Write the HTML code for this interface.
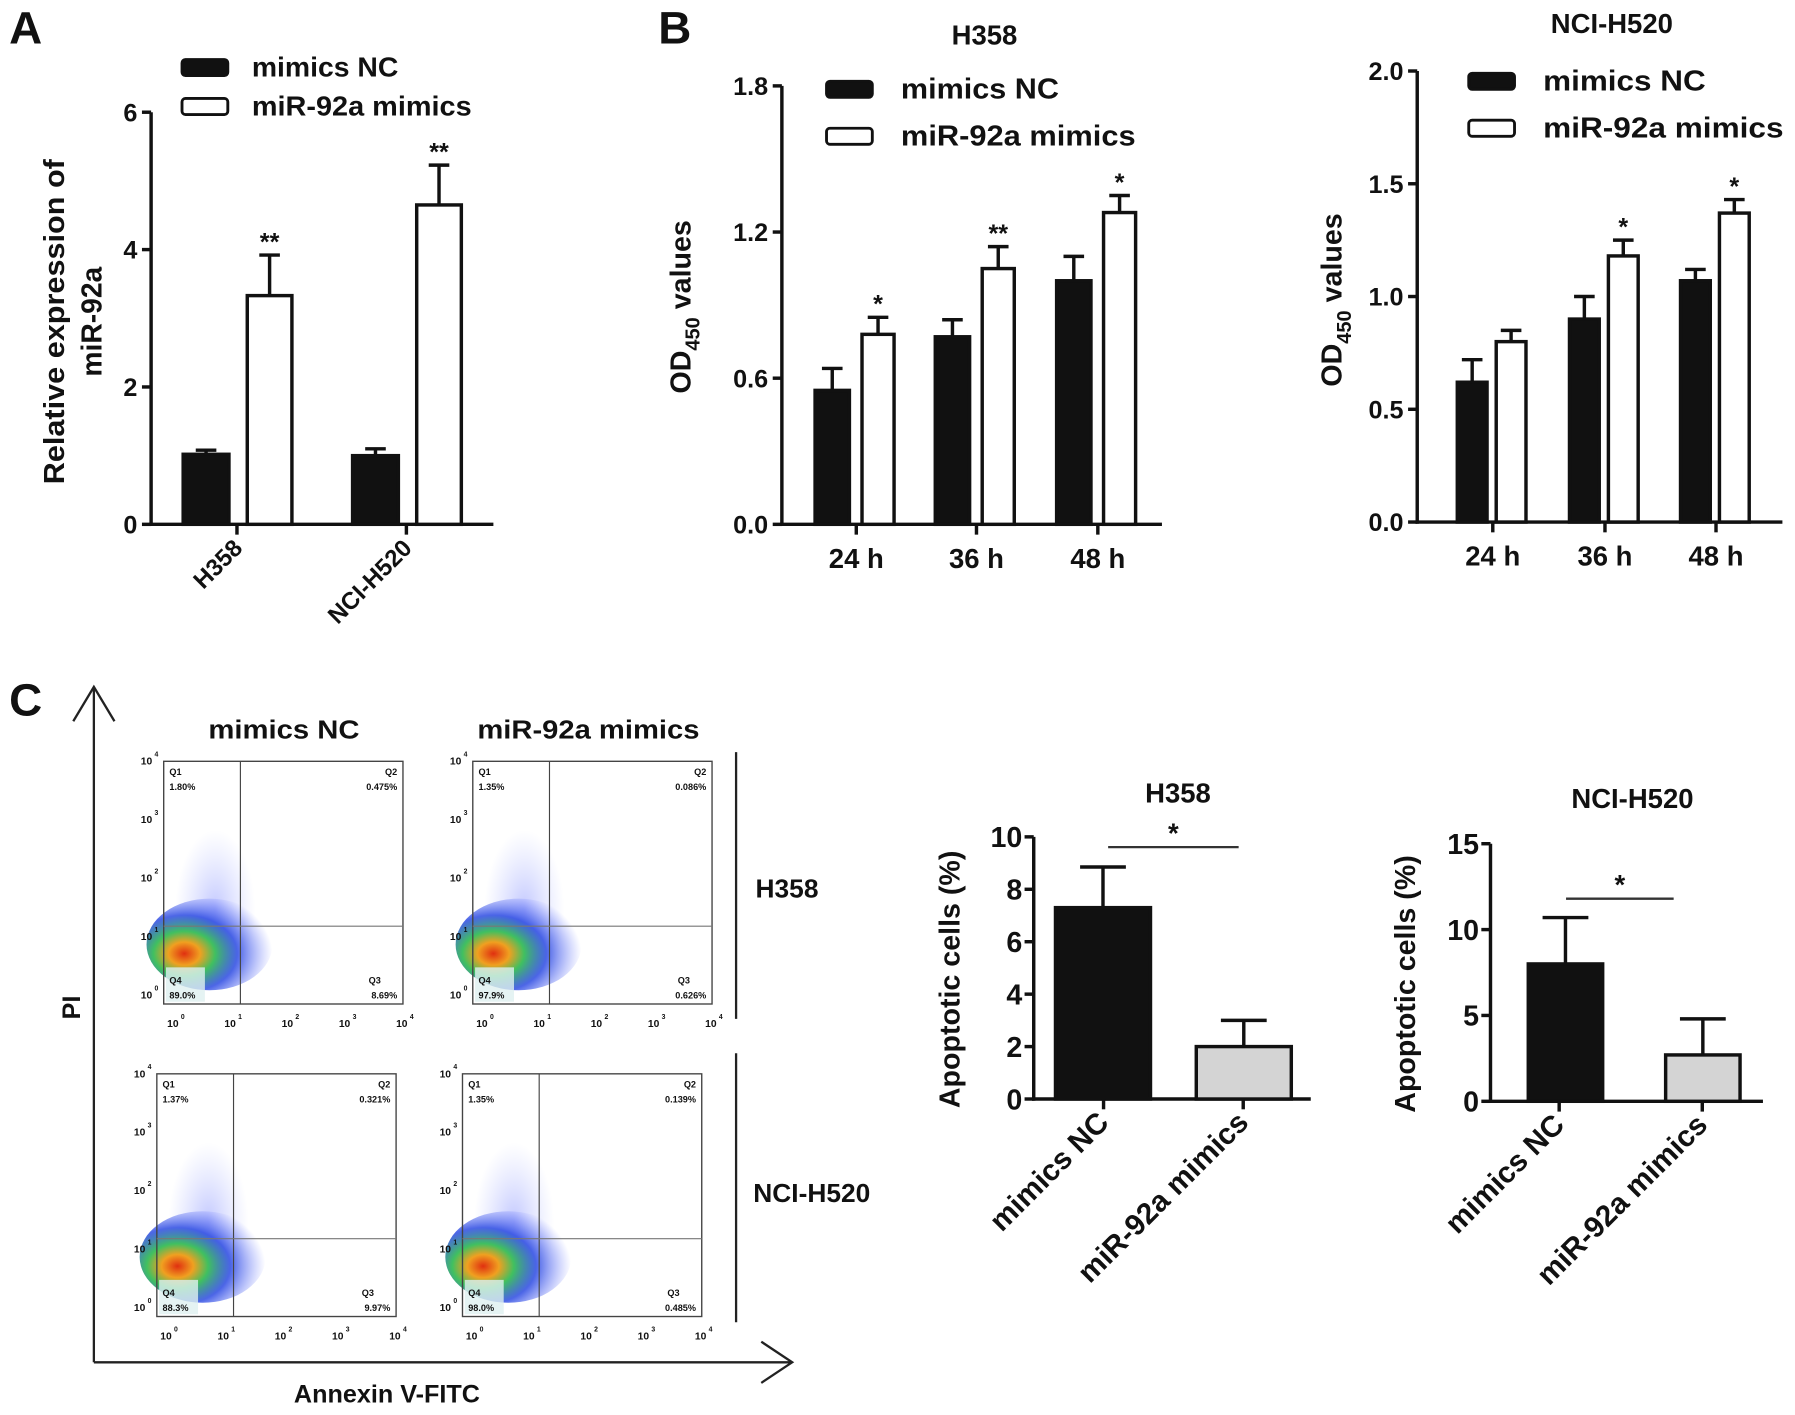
<!DOCTYPE html>
<html><head><meta charset="utf-8"><style>
html,body{margin:0;padding:0;background:#fff}
svg{display:block}
text{font-family:"Liberation Sans",Arial,sans-serif;font-weight:bold;fill:#111}
</style></head><body>
<svg id="fig" width="1795" height="1415" viewBox="0 0 1568 1236" xmlns="http://www.w3.org/2000/svg">
<defs>
<radialGradient id="blob" cx="0.3" cy="0.6" r="0.7">
<stop offset="0" stop-color="#e03010"/><stop offset="0.18" stop-color="#f0a020"/><stop offset="0.35" stop-color="#40c060"/><stop offset="0.6" stop-color="#2040e0" stop-opacity="0.8"/><stop offset="1" stop-color="#6070ff" stop-opacity="0"/>
</radialGradient>
<radialGradient id="haze" cx="0.5" cy="0.5" r="0.5">
<stop offset="0" stop-color="#5060ff" stop-opacity="0.35"/><stop offset="1" stop-color="#8090ff" stop-opacity="0"/>
</radialGradient>
</defs>
<g id="root"></g>
</svg>
<script>
// ---- Panel A data ----
const aCategories = ["H358", "NCI-H520"];
const aNC = [1.02, 1.0];
const aNCErr = [0.06, 0.1];
const aMim = [3.33, 4.65];
const aMimErr = [0.59, 0.58];
const aSig = ["**", "**"];
const aTicks = [0, 2, 4, 6];
// ---- Panel B H358 ----
const bTimes = ["24 h", "36 h", "48 h"];
const bH358NC = [0.55, 0.77, 1.00];
const bH358NCErr = [0.09, 0.07, 0.10];
const bH358Mim = [0.78, 1.05, 1.28];
const bH358MimErr = [0.07, 0.09, 0.07];
const bH358Sig = ["*", "**", "*"];
const bH358Ticks = [0.0, 0.6, 1.2, 1.8];
// ---- Panel B NCI-H520 ----
const bNciNC = [0.62, 0.90, 1.07];
const bNciNCErr = [0.10, 0.10, 0.05];
const bNciMim = [0.80, 1.18, 1.37];
const bNciMimErr = [0.05, 0.07, 0.06];
const bNciSig = ["", "*", "*"];
const bNciTicks = [0.0, 0.5, 1.0, 1.5, 2.0];
// ---- Panel C apoptosis ----
const cGroups = ["mimics NC", "miR-92a mimics"];
const cH358 = [7.3, 2.0];
const cH358Err = [1.55, 1.0];
const cH358Ticks = [0, 2, 4, 6, 8, 10];
const cNci = [8.0, 2.7];
const cNciErr = [2.7, 2.1];
const cNciTicks = [0, 5, 10, 15];

const NS = "http://www.w3.org/2000/svg";
const root = document.getElementById("root");
function el(tag, attrs, parent, txt) {
  const e = document.createElementNS(NS, tag);
  for (const k in attrs) e.setAttribute(k, attrs[k]);
  if (txt !== undefined) e.textContent = txt;
  (parent || root).appendChild(e);
  return e;
}
function txt(x, y, s, size, anchor, parent, extra) {
  return el("text", Object.assign({x: x, y: y, "font-size": size, "text-anchor": anchor || "middle"}, extra || {}), parent, s);
}
function linearScale(d0, d1, r0, r1) { return v => r0 + (v - d0) / (d1 - d0) * (r1 - r0); }

function barChart(o) {
  const g = el("g", {});
  
  
  const y = linearScale(o.ymin, o.ymax, o.y0, o.y1);
  const ya = el("line", {x1: o.x0, y1: o.y0 + 1.5, x2: o.x0, y2: o.y1, stroke: "#111", "stroke-width": 3}, g);
  
  
  const xa = el("line", {x1: o.x0 - 1.5, y1: o.y0, x2: o.xend, y2: o.y0, stroke: "#111", "stroke-width": 3}, g);
  
  
  o.ticks.forEach(t => {
    const yy = y(t);
    el("line", {x1: o.x0 - 8, y1: yy, x2: o.x0, y2: yy, stroke: "#111", "stroke-width": 3}, g);
    const lab = txt(o.x0 - 12, yy + 8, o.tickFmt ? o.tickFmt(t) : String(t), o.tickSize || 22, "end", g);
    
    
  });
  o.cats.forEach((c, i) => {
    const cx = o.catX[i];
    el("line", {x1: cx, y1: o.y0, x2: cx, y2: o.y0 + 9, stroke: "#111", "stroke-width": 3}, g);
    let lab;
    if (o.rotate) {
      lab = txt(0, 0, c, o.catSize || 22, "end", g, {transform: "translate(" + (cx + 6) + "," + (o.y0 + 22) + ") rotate(-45)"});
    } else {
      lab = txt(cx, o.y0 + 38, c, o.catSize || 22, "middle", g);
    }
    
    
    o.series.forEach((s) => {
      const v = s.vals[i], e = s.err[i];
      const bx = cx + s.off, bw = s.w;
      const top = y(v), etop = y(v + e);
      const em = el("line", {x1: bx + bw / 2, y1: top, x2: bx + bw / 2, y2: etop, stroke: "#111", "stroke-width": 3}, g);
      
      
      el("line", {x1: bx + bw / 2 - 9, y1: etop, x2: bx + bw / 2 + 9, y2: etop, stroke: "#111", "stroke-width": 3}, g);
      const r = el("rect", {x: bx, y: top, width: bw, height: o.y0 - top, fill: s.fill, stroke: "#111", "stroke-width": 3}, g);
      
      
      if (s.sig && s.sig[i]) {
        const st = txt(bx + bw / 2, etop - 4, s.sig[i], 22, "middle", g, {"font-weight": "normal", fill: "#333"});
        
        
      }
    });
  });
  return {g: g, y: y};
}
function legend(x, y1, y2, textX, size, w1, w2) {
  const g = el("g", {});
  
  
  const a = el("rect", {x: x, y: y1, width: 40, height: 14, rx: 3, fill: "#111", stroke: "#111", "stroke-width": 2.5}, g);
  
  
  const t1 = txt(textX, y1 + 15, "mimics NC", size, "start", g, {textLength: w1, lengthAdjust: "spacingAndGlyphs"});
  
  
  const b = el("rect", {x: x, y: y2, width: 40, height: 14, rx: 3, fill: "#fff", stroke: "#111", "stroke-width": 2.5}, g);
  
  
  const t2 = txt(textX, y2 + 15, "miR-92a mimics", size, "start", g, {textLength: w2, lengthAdjust: "spacingAndGlyphs"});
  
  
}
function yTitle(x, y, lines, size, sub, lens) {
  const t = el("text", {x: 0, y: 0, "font-size": size, "text-anchor": "middle", transform: "translate(" + x + "," + y + ") rotate(-90)"});
  
  
  if (sub) {
    el("tspan", {}, t, "OD");
    el("tspan", {dy: 8, "font-size": size * 0.7}, t, "450");
    el("tspan", {dy: -8}, t, " values");
  } else {
    lines.forEach((l, i) => {
      const a = {x: 0, dy: i === 0 ? 0 : size * 1.3};
      if (lens) { a.textLength = lens[i]; a.lengthAdjust = "spacingAndGlyphs"; }
      el("tspan", a, t, l);
    });
  }
}

[["A", 8, 38], ["B", 575, 38], ["C", 8, 625]].forEach(p => {
  const t = txt(p[1], p[2], p[0], 40, "start");
  
  
});

// ===== Panel A =====
barChart({name: "chart-a-relative-expression", x0: 132, xend: 431, y0: 458, y1: 98, ymin: 0, ymax: 6,
  ticks: aTicks, cats: aCategories, catX: [207, 355], rotate: true, catSize: 21,
  series: [{key: "nc", vals: aNC, err: aNCErr, off: -47, w: 40, fill: "#111"},
           {key: "mimics", vals: aMim, err: aMimErr, off: 9, w: 39, fill: "#fff", sig: aSig}]});
legend(159, 52, 86, 220, 24, 128, 192);
yTitle(56, 281, ["Relative expression of", "miR-92a"], 25, false, [284, 96]);

// ===== Panel B H358 =====
barChart({name: "chart-b-h358-od450", x0: 683, xend: 1015, y0: 458, y1: 75, ymin: 0, ymax: 1.8,
  ticks: bH358Ticks, tickFmt: v => v.toFixed(1), cats: bTimes, catX: [748, 853, 959], catSize: 24,
  series: [{key: "nc", vals: bH358NC, err: bH358NCErr, off: -36, w: 30, fill: "#111"},
           {key: "mimics", vals: bH358Mim, err: bH358MimErr, off: 5, w: 28, fill: "#fff", sig: bH358Sig}]});
legend(722, 71, 112, 787, 25, 138, 205);
let t = txt(860, 39, "H358", 24);  
yTitle(603, 268, null, 25, true);

// ===== Panel B NCI-H520 =====
barChart({name: "chart-b-nci-h520-od450", x0: 1238, xend: 1557, y0: 456, y1: 62, ymin: 0, ymax: 2.0,
  ticks: bNciTicks, tickFmt: v => v.toFixed(1), cats: bTimes, catX: [1304, 1402, 1499], catSize: 24,
  series: [{key: "nc", vals: bNciNC, err: bNciNCErr, off: -31, w: 26, fill: "#111"},
           {key: "mimics", vals: bNciMim, err: bNciMimErr, off: 3, w: 26, fill: "#fff", sig: bNciSig}]});
legend(1283, 64, 105, 1348, 25, 142, 210);
t = txt(1408, 29, "NCI-H520", 24);  
yTitle(1172, 262, null, 25, true);

// ===== Panel C flow cytometry =====
const fg = el("g", {});


el("line", {x1: 82, y1: 600, x2: 82, y2: 1190, stroke: "#222", "stroke-width": 2}, fg);
el("polyline", {points: "64,630 82,600 100,630", fill: "none", stroke: "#222", "stroke-width": 2}, fg);
el("line", {x1: 82, y1: 1190, x2: 692, y2: 1190, stroke: "#222", "stroke-width": 2}, fg);
el("polyline", {points: "665,1172 692,1190 665,1208", fill: "none", stroke: "#222", "stroke-width": 2}, fg);
t = txt(0, 0, "PI", 22, "middle", fg, {"font-weight": "normal", transform: "translate(70,880) rotate(-90)"});
 
t = txt(338, 1225, "Annexin V-FITC", 22, "middle", fg, {"font-weight": "normal"});
 
t = txt(248, 645, "mimics NC", 23, "middle", fg, {textLength: 132, lengthAdjust: "spacingAndGlyphs"});  
t = txt(514, 645, "miR-92a mimics", 23, "middle", fg, {textLength: 194, lengthAdjust: "spacingAndGlyphs"});  
el("line", {x1: 643, y1: 657, x2: 643, y2: 890, stroke: "#222", "stroke-width": 2}, fg);
el("line", {x1: 643, y1: 920, x2: 643, y2: 1155, stroke: "#222", "stroke-width": 2}, fg);
t = txt(660, 784, "H358", 23, "start", fg);  
t = txt(658, 1050, "NCI-H520", 23, "start", fg);  

const flowBoxes = [
  {x: 143, y: 665, q: ["1.80%", "0.475%", "89.0%", "8.69%"], vx: 67},
  {x: 413, y: 665, q: ["1.35%", "0.086%", "97.9%", "0.626%"], vx: 67},
  {x: 137, y: 938, q: ["1.37%", "0.321%", "88.3%", "9.97%"], vx: 67},
  {x: 404, y: 938, q: ["1.35%", "0.139%", "98.0%", "0.485%"], vx: 67}
];
flowBoxes.forEach((b, i) => {
  const g = el("g", {}, fg);
  
  
  const W = 209, H = 212;
  el("ellipse", {cx: b.x + 45, cy: b.y + 130, rx: 35, ry: 70, fill: "url(#haze)"}, g);
  el("ellipse", {cx: b.x + 40, cy: b.y + 160, rx: 55, ry: 40, fill: "url(#blob)"}, g);
  el("rect", {x: b.x, y: b.y, width: W, height: H, fill: "none", stroke: "#444", "stroke-width": 1.2}, g);
  el("line", {x1: b.x + b.vx, y1: b.y, x2: b.x + b.vx, y2: b.y + H, stroke: "#444", "stroke-width": 1}, g);
  el("line", {x1: b.x, y1: b.y + 144, x2: b.x + W, y2: b.y + 144, stroke: "#777", "stroke-width": 1}, g);
  el("rect", {x: b.x + 2, y: b.y + 180, width: 34, height: 30, fill: "#dff0f0", opacity: 0.8}, g);
  const small = {"font-weight": "normal", fill: "#555"};
  txt(b.x + 5, b.y + 12, "Q1", 8, "start", g, small);
  txt(b.x + 5, b.y + 25, b.q[0], 8, "start", g, small);
  txt(b.x + W - 5, b.y + 12, "Q2", 8, "end", g, small);
  txt(b.x + W - 5, b.y + 25, b.q[1], 8, "end", g, small);
  txt(b.x + 5, b.y + 194, "Q4", 8, "start", g, small);
  txt(b.x + 5, b.y + 207, b.q[2], 8, "start", g, small);
  txt(b.x + W - 30, b.y + 194, "Q3", 8, "start", g, small);
  txt(b.x + W - 5, b.y + 207, b.q[3], 8, "end", g, small);
  for (let k = 0; k <= 4; k++) {
    txt(b.x + 8 + k * 50, b.y + H + 20, "10", 9, "middle", g, small);
    txt(b.x + 15 + k * 50, b.y + H + 13, String(k), 6, "start", g, small);
    txt(b.x - 15, b.y + H - 5 - k * 51, "10", 9, "middle", g, small);
    txt(b.x - 8, b.y + H - 12 - k * 51, String(k), 6, "start", g, small);
  }
});

// ===== Panel C apoptosis bars =====
function apop(name, x0, xend, y0, y1, ymax, ticks, vals, errs, catX, barX, barW, sig, title, titleY, ytx) {
  const g = el("g", {});
  
  
  const y = linearScale(0, ymax, y0, y1);
  el("line", {x1: x0, y1: y0 + 1.5, x2: x0, y2: y1, stroke: "#111", "stroke-width": 3}, g);
  el("line", {x1: x0 - 1.5, y1: y0, x2: xend, y2: y0, stroke: "#111", "stroke-width": 3}, g);
  ticks.forEach(tv => {
    el("line", {x1: x0 - 8, y1: y(tv), x2: x0, y2: y(tv), stroke: "#111", "stroke-width": 3}, g);
    const l = txt(x0 - 10, y(tv) + 9, String(tv), 25, "end", g);
    
    
  });
  const fills = ["#111", "#d4d4d4"];
  cGroups.forEach((c, i) => {
    const bx = barX[i], top = y(vals[i]), etop = y(vals[i] + errs[i]);
    el("line", {x1: bx + barW / 2, y1: top, x2: bx + barW / 2, y2: etop, stroke: "#111", "stroke-width": 3}, g);
    el("line", {x1: bx + barW / 2 - 20, y1: etop, x2: bx + barW / 2 + 20, y2: etop, stroke: "#111", "stroke-width": 3}, g);
    const r = el("rect", {x: bx, y: top, width: barW, height: y0 - top, fill: fills[i], stroke: "#111", "stroke-width": 3}, g);
    
    
    el("line", {x1: catX[i], y1: y0, x2: catX[i], y2: y0 + 9, stroke: "#111", "stroke-width": 3}, g);
    const l = txt(0, 0, c, 26, "end", g, {transform: "translate(" + (catX[i] + 6) + "," + (y0 + 22) + ") rotate(-45)"});
    
    
  });
  const sl = el("line", {x1: sig[0], y1: sig[2], x2: sig[1], y2: sig[2], stroke: "#333", "stroke-width": 2}, g);
  
  
  const st = txt((sig[0] + sig[1]) / 2, sig[2] - 4, "*", 24, "middle", g, {"font-weight": "normal", fill: "#333"});
  
  
  const tt = txt((x0 + xend) / 2 + 5, titleY, title, 24, "middle", g);
  
  
  const yt = txt(0, 0, "Apoptotic cells (%)", 25, "middle", g, {transform: "translate(" + ytx + "," + ((y0 + y1) / 2 + 10) + ") rotate(-90)"});
  
  
}
apop("chart-c-h358-apoptosis", 903, 1145, 960, 731, 10, cH358Ticks, cH358, cH358Err, [964, 1086], [922, 1045], 83, [968, 1082, 740], "H358", 701, 838);
apop("chart-c-nci-h520-apoptosis", 1302, 1540, 962, 737, 15, cNciTicks, cNci, cNciErr, [1362, 1487], [1335, 1455], 65, [1368, 1462, 785], "NCI-H520", 706, 1236);
</script>
</body></html>
